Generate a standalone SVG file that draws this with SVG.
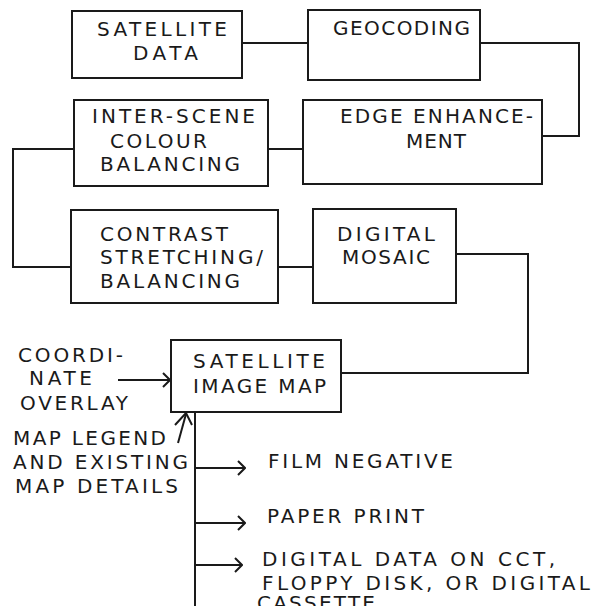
<svg xmlns="http://www.w3.org/2000/svg" width="601" height="606" viewBox="0 0 601 606">
<defs>
<style>
.box{fill:none;stroke:#1a1a1a;stroke-width:2}
.ln{fill:none;stroke:#1a1a1a;stroke-width:2}
text{font-family:"DejaVu Sans","Liberation Sans",Arial,sans-serif;font-size:20px;fill:#1a1a1a}
</style>
<marker id="chev" viewBox="0 0 10 16" refX="9" refY="8" markerWidth="10" markerHeight="16" markerUnits="userSpaceOnUse" orient="auto">
<path d="M2,1 L9,8 L2,15" fill="none" stroke="#1a1a1a" stroke-width="2"/>
</marker>
</defs>
<rect width="601" height="606" fill="#fff"/>
<g id="connectors">
<path class="ln" d="M242,43 H308"/>
<path class="ln" d="M480,43 H579 V136 H542"/>
<path class="ln" d="M268,149 H303"/>
<path class="ln" d="M74,149 H13 V267 H71"/>
<path class="ln" d="M278,267 H313"/>
<path class="ln" d="M456,254 H528 V373 H341"/>
<path class="ln" d="M118,380 H170" marker-end="url(#chev)"/>
<path class="ln" d="M178,443 L186,414"/>
<path class="ln" d="M175,425 L186,413 L192,425"/>
<path class="ln" d="M195,412 V606"/>
<path class="ln" d="M195,468 H245" marker-end="url(#chev)"/>
<path class="ln" d="M195,523 H245" marker-end="url(#chev)"/>
<path class="ln" d="M195,565 H242" marker-end="url(#chev)"/>
</g>
<g id="satellite-data">
<rect class="box" x="72" y="11" width="170" height="67"/>
<text x="97" y="36" textLength="130" lengthAdjust="spacing">SATELLITE</text>
<text x="133" y="60" textLength="65" lengthAdjust="spacing">DATA</text>
</g>
<g id="geocoding">
<rect class="box" x="308" y="10" width="172" height="70"/>
<text x="333" y="35" textLength="137" lengthAdjust="spacing">GEOCODING</text>
</g>
<g id="edge-enhancement">
<rect class="box" x="303" y="100" width="239" height="84"/>
<text x="340" y="123" textLength="193" lengthAdjust="spacing">EDGE ENHANCE-</text>
<text x="406" y="148" textLength="60" lengthAdjust="spacing">MENT</text>
</g>
<g id="inter-scene">
<rect class="box" x="74" y="100" width="194" height="86"/>
<text x="92" y="123" textLength="163" lengthAdjust="spacing">INTER-SCENE</text>
<text x="110" y="148" textLength="97" lengthAdjust="spacing">COLOUR</text>
<text x="100" y="171" textLength="140" lengthAdjust="spacing">BALANCING</text>
</g>
<g id="contrast">
<rect class="box" x="71" y="210" width="207" height="93"/>
<text x="100" y="241" textLength="128" lengthAdjust="spacing">CONTRAST</text>
<text x="100" y="264" textLength="163" lengthAdjust="spacing">STRETCHING/</text>
<text x="100" y="288" textLength="140" lengthAdjust="spacing">BALANCING</text>
</g>
<g id="digital-mosaic">
<rect class="box" x="313" y="209" width="143" height="94"/>
<text x="337" y="241" textLength="98" lengthAdjust="spacing">DIGITAL</text>
<text x="342" y="264" textLength="88" lengthAdjust="spacing">MOSAIC</text>
</g>
<g id="image-map">
<rect class="box" x="171" y="340" width="170" height="72"/>
<text x="193" y="368" textLength="132" lengthAdjust="spacing">SATELLITE</text>
<text x="193" y="393" textLength="133" lengthAdjust="spacing">IMAGE MAP</text>
</g>
<g id="coordinate-overlay">
<text x="18" y="362" textLength="105" lengthAdjust="spacing">COORDI-</text>
<text x="29" y="385" textLength="63" lengthAdjust="spacing">NATE</text>
<text x="20" y="410" textLength="108" lengthAdjust="spacing">OVERLAY</text>
</g>
<g id="map-legend">
<text x="13" y="445" textLength="153" lengthAdjust="spacing">MAP LEGEND</text>
<text x="13" y="469" textLength="175" lengthAdjust="spacing">AND EXISTING</text>
<text x="15" y="493" textLength="163" lengthAdjust="spacing">MAP DETAILS</text>
</g>
<g id="film-negative">
<text x="268" y="468" textLength="185" lengthAdjust="spacing">FILM NEGATIVE</text>
</g>
<g id="paper-print">
<text x="267" y="523" textLength="157" lengthAdjust="spacing">PAPER PRINT</text>
</g>
<g id="digital-data">
<text x="262" y="566" textLength="293" lengthAdjust="spacing">DIGITAL DATA ON CCT,</text>
<text x="262" y="590" textLength="328" lengthAdjust="spacing">FLOPPY DISK, OR DIGITAL</text>
<text x="257" y="610" textLength="118" lengthAdjust="spacing">CASSETTE</text>
</g>
</svg>
